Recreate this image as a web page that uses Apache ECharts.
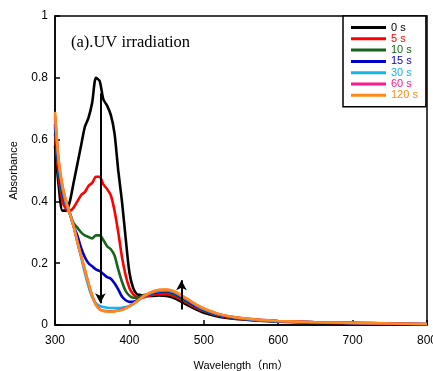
<!DOCTYPE html>
<html>
<head>
<meta charset="utf-8">
<script src="https://cdn.jsdelivr.net/npm/echarts@6/dist/echarts.min.js"></script>
<style>
  html, body { margin: 0; padding: 0; background: #fff; }
  #chart { width: 433px; height: 371px; }
</style>
</head>
<body>
<div id="chart"></div>
<script>
// wavelength grid (nm)
const wavelengths = [300, 305, 310, 315, 320, 325, 330, 335, 340, 345, 350, 355, 360, 365, 370, 375, 380, 385, 390, 395,
  400, 405, 410, 415, 420, 430, 440, 450, 460, 470, 480, 490, 500, 520, 540, 560, 580, 600, 650, 700, 750, 800]

const abs0s = [0.58, 0.45, 0.37, 0.37, 0.40, 0.46, 0.52, 0.58, 0.64, 0.67, 0.72, 0.80, 0.79, 0.73, 0.71, 0.68, 0.62, 0.50, 0.40, 0.28,
  0.17, 0.12, 0.10, 0.097, 0.095, 0.094, 0.096, 0.094, 0.087, 0.075, 0.062, 0.050, 0.040, 0.027, 0.020, 0.016, 0.013, 0.011, 0.008, 0.006, 0.004, 0.002]
const abs5s = [0.62, 0.48, 0.40, 0.375, 0.37, 0.38, 0.40, 0.42, 0.43, 0.45, 0.46, 0.48, 0.48, 0.455, 0.44, 0.42, 0.37, 0.30, 0.22, 0.16,
  0.12, 0.10, 0.09, 0.088, 0.09, 0.097, 0.10, 0.10, 0.094, 0.082, 0.068, 0.055, 0.045, 0.030, 0.022, 0.017, 0.014, 0.012, 0.008, 0.006, 0.004, 0.002]
const abs10s = [0.64, 0.50, 0.42, 0.39, 0.36, 0.33, 0.315, 0.30, 0.29, 0.285, 0.28, 0.29, 0.29, 0.275, 0.255, 0.245, 0.225, 0.18, 0.14, 0.11,
  0.095, 0.088, 0.088, 0.092, 0.097, 0.102, 0.106, 0.106, 0.099, 0.086, 0.072, 0.058, 0.047, 0.031, 0.023, 0.018, 0.015, 0.012, 0.009, 0.006, 0.004, 0.002]
const abs15s = [0.65, 0.51, 0.43, 0.39, 0.36, 0.32, 0.29, 0.25, 0.22, 0.20, 0.19, 0.18, 0.175, 0.165, 0.155, 0.15, 0.135, 0.115, 0.092, 0.08,
  0.075, 0.075, 0.08, 0.088, 0.095, 0.103, 0.108, 0.11, 0.103, 0.09, 0.075, 0.06, 0.049, 0.032, 0.024, 0.018, 0.015, 0.012, 0.009, 0.006, 0.004, 0.002]
const abs30s = [0.67, 0.52, 0.44, 0.39, 0.36, 0.32, 0.27, 0.22, 0.17, 0.125, 0.09, 0.07, 0.062, 0.058, 0.056, 0.055, 0.055, 0.055, 0.056, 0.058,
  0.062, 0.068, 0.076, 0.085, 0.093, 0.104, 0.11, 0.112, 0.106, 0.093, 0.078, 0.063, 0.051, 0.034, 0.025, 0.019, 0.015, 0.012, 0.009, 0.007, 0.005, 0.003]
const abs60s = [0.68, 0.53, 0.45, 0.40, 0.36, 0.32, 0.27, 0.225, 0.18, 0.135, 0.095, 0.066, 0.051, 0.046, 0.045, 0.044, 0.045, 0.047, 0.05, 0.055,
  0.061, 0.068, 0.077, 0.086, 0.095, 0.106, 0.113, 0.114, 0.108, 0.095, 0.08, 0.065, 0.053, 0.035, 0.026, 0.02, 0.016, 0.013, 0.009, 0.007, 0.005, 0.003]
const abs120s = [0.69, 0.53, 0.45, 0.40, 0.36, 0.32, 0.27, 0.225, 0.18, 0.135, 0.095, 0.065, 0.05, 0.045, 0.044, 0.043, 0.044, 0.046, 0.049, 0.054,
  0.06, 0.068, 0.077, 0.086, 0.095, 0.107, 0.114, 0.115, 0.109, 0.096, 0.081, 0.066, 0.054, 0.036, 0.026, 0.02, 0.016, 0.013, 0.009, 0.007, 0.005, 0.003]

const seriesNames = ['0 s', '5 s', '10 s', '15 s', '30 s', '60 s', '120 s']
const seriesValues = [abs0s, abs5s, abs10s, abs15s, abs30s, abs60s, abs120s]
const seriesColors = ['#000000', '#ff0000', '#16651a', '#0000cc', '#12b4ee', '#ff1a8c', '#ff8c1a']

const xTicks = [300, 400, 500, 600, 700, 800]
const yTicks = [0, 0.2, 0.4, 0.6, 0.8, 1]

// arrows: [wavelength, from, to]
const arrowDown = [361, 0.75, 0.07]
const arrowUp = [470, 0.05, 0.145]

const myChart = echarts.init(document.getElementById('chart'))

const lineSeries = seriesNames.map((name, i) => ({
  name,
  type: 'line',
  data: wavelengths.map((w, j) => [w, seriesValues[i][j]]),
  showSymbol: false,
  symbol: 'none',
  smooth: 0.25,
  lineStyle: { color: seriesColors[i], width: 2.6 },
  itemStyle: { color: seriesColors[i] },
  animation: false,
}))

const arrowSeries = {
  name: 'arrows',
  type: 'line',
  data: [],
  z: 10,
  markLine: {
    silent: true,
    animation: false,
    symbol: ['none', 'arrow'],
    symbolSize: [8, 10],
    label: { show: false },
    lineStyle: { color: '#000', width: 2, type: 'solid' },
    data: [
      [{ coord: [arrowDown[0], arrowDown[1]] }, { coord: [arrowDown[0], arrowDown[2]] }],
      [{ coord: [arrowUp[0], arrowUp[1]] }, { coord: [arrowUp[0], arrowUp[2]] }],
    ],
  },
}

myChart.setOption({
  animation: false,
  title: {
    text: '(a).UV irradiation',
    left: 66,
    top: 29,
    textStyle: { fontFamily: 'Liberation Serif', fontWeight: 'normal', fontSize: 16.5, color: '#000' },
  },
  legend: {
    orient: 'vertical',
    left: 343,
    top: 16,
    padding: [6, 8, 6, 8],
    itemGap: 0.3,
    itemWidth: 35,
    itemHeight: 3,
    icon: 'rect',
    borderColor: '#000',
    borderWidth: 1.5,
    borderRadius: 0,
    backgroundColor: '#fff',
    data: seriesNames.map((name, i) => ({
      name,
      textStyle: { color: seriesColors[i] },
    })),
    textStyle: { fontFamily: 'Liberation Sans', fontSize: 11, lineHeight: 11 },
  },
  grid: {
    left: 55,
    right: 6,
    top: 16,
    bottom: 46,
    outerBoundsMode: 'none',
    show: true,
    borderColor: '#000',
    borderWidth: 1.5,
  },
  xAxis: {
    type: 'value',
    min: xTicks[0],
    max: xTicks[xTicks.length - 1],
    interval: 100,
    name: 'Wavelength（nm）',
    nameLocation: 'middle',
    nameGap: 35,
    nameTextStyle: { fontFamily: 'Liberation Sans, Noto Sans CJK JP', fontSize: 11, color: '#000' },
    axisLine: { lineStyle: { color: '#000', width: 1.5 } },
    axisTick: { inside: true, length: 5, lineStyle: { color: '#000', width: 1.5 } },
    axisLabel: { color: '#000', fontFamily: 'Liberation Sans', fontSize: 12, margin: 10 },
    splitLine: { show: false },
  },
  yAxis: {
    type: 'value',
    min: yTicks[0],
    max: yTicks[yTicks.length - 1],
    interval: 0.2,
    name: 'Absorbance',
    nameLocation: 'middle',
    nameGap: 36,
    nameTextStyle: { fontFamily: 'Liberation Sans', fontSize: 11, color: '#000' },
    axisLine: { show: true, lineStyle: { color: '#000', width: 1.5 } },
    axisTick: { show: true, inside: true, length: 5, lineStyle: { color: '#000', width: 1.5 } },
    axisLabel: { color: '#000', fontFamily: 'Liberation Sans', fontSize: 12, margin: 7 },
    splitLine: { show: false },
  },
  series: [...lineSeries, arrowSeries],
})
</script>
</body>
</html>
